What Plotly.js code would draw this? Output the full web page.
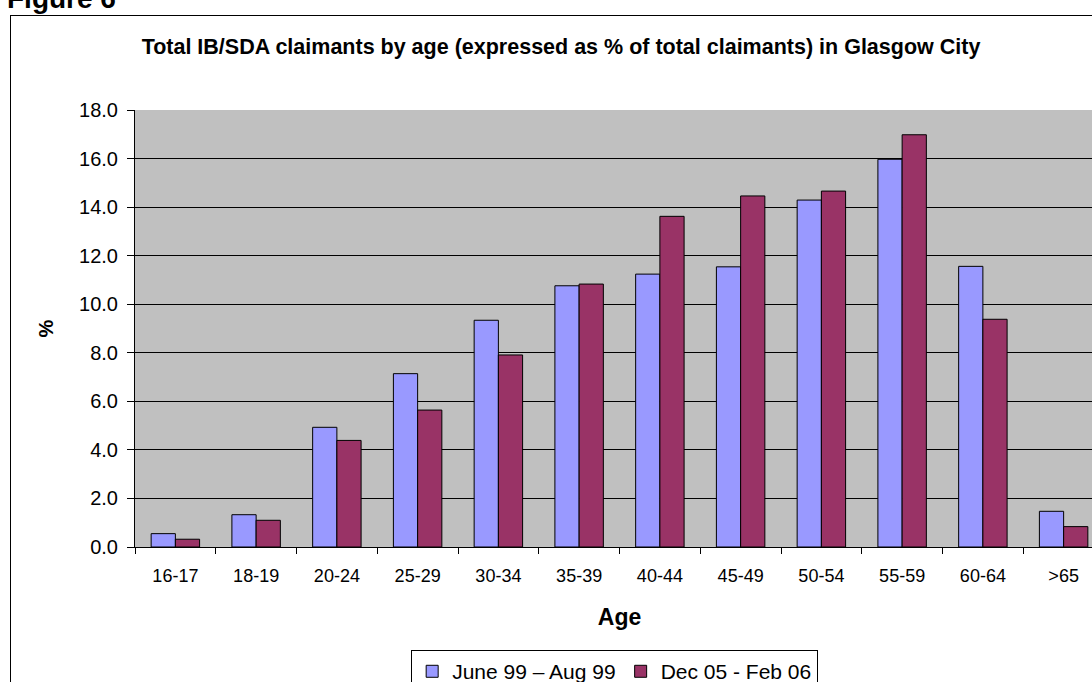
<!DOCTYPE html>
<html>
<head>
<meta charset="utf-8">
<script src="https://cdn.plot.ly/plotly-3.0.1.min.js"></script>
<style>
  html, body { margin: 0; padding: 0; background: #fff; overflow: hidden; width: 1092px; height: 682px; }
  #figlabel { position: absolute; left: 7px; top: -17px; font-family: "Liberation Sans", Arial, sans-serif; font-weight: bold; font-size: 28px; color: #000; white-space: nowrap; }
  #chart { position: absolute; left: 10px; top: 15px; width: 1110px; height: 680px; border: 1px solid #000; }
</style>
</head>
<body>
<div id="figlabel">Figure 6</div>
<div id="chart"></div>
<script>
const ageGroups = ["16-17", "18-19", "20-24", "25-29", "30-34", "35-39", "40-44", "45-49", "50-54", "55-59", "60-64", ">65"];
const june99Aug99 = [0.55, 1.33, 4.93, 7.14, 9.34, 10.76, 11.24, 11.54, 14.29, 15.97, 11.56, 1.47];
const dec05Feb06 = [0.32, 1.10, 4.39, 5.64, 7.91, 10.83, 13.62, 14.46, 14.66, 16.98, 9.38, 0.84];
const seriesNames = ["June 99 \u2013 Aug 99", "Dec 05 - Feb 06"];
const chartTitle = "Total IB/SDA claimants by age (expressed as % of total claimants) in Glasgow City";

const font = "Liberation Sans, Arial, sans-serif";

const traces = [
  { type: "bar", name: seriesNames[0], x: ageGroups, y: june99Aug99,
    marker: { color: "#9999FF", line: { color: "#000", width: 1 } }, hoverinfo: "x+y" },
  { type: "bar", name: seriesNames[1], x: ageGroups, y: dec05Feb06,
    marker: { color: "#993366", line: { color: "#000", width: 1 } }, hoverinfo: "x+y" }
];

const layout = {
  width: 1110, height: 680,
  margin: { l: 124, r: 17, t: 94, b: 149, autoexpand: false },
  paper_bgcolor: "#fff",
  plot_bgcolor: "#C0C0C0",
  font: { family: font, color: "#000", size: 18 },
  barmode: "group",
  bargap: 0.4,
  bargroupgap: 0,
  showlegend: true,
  title: { text: "<b>" + chartTitle + "</b>", font: { family: font, size: 21.5, color: "#000" },
           x: 0.4955, xref: "container", xanchor: "center", y: 1, yref: "container", yanchor: "top", pad: { t: 23 } },
  xaxis: {
    type: "category",
    showline: true, linecolor: "#000", linewidth: 1,
    ticks: "outside", tickson: "boundaries", ticklen: 6, tickcolor: "#000",
    tickfont: { size: 18 },
    ticklabelstandoff: 12,
    showgrid: false,
    title: { text: "<b>Age</b>", font: { size: 23 }, standoff: 24 }
  },
  yaxis: {
    range: [0, 18], dtick: 2, tickformat: ".1f",
    showline: true, linecolor: "#000", linewidth: 1,
    ticks: "outside", ticklen: 7, tickcolor: "#000",
    tickfont: { size: 20 },
    ticklabelstandoff: 5,
    showgrid: true, gridcolor: "#000", gridwidth: 1,
    zeroline: false,
    title: { text: "<b>%</b>", font: { size: 20 }, standoff: 20 }
  },
  legend: {
    orientation: "h", x: 0.285, xanchor: "left", y: -0.236, yanchor: "top",
    bordercolor: "#000", borderwidth: 1, bgcolor: "#fff",
    font: { size: 21 }, itemclick: false
  }
};

Plotly.newPlot("chart", traces, layout, { displayModeBar: false, staticPlot: true });
</script>
</body>
</html>
